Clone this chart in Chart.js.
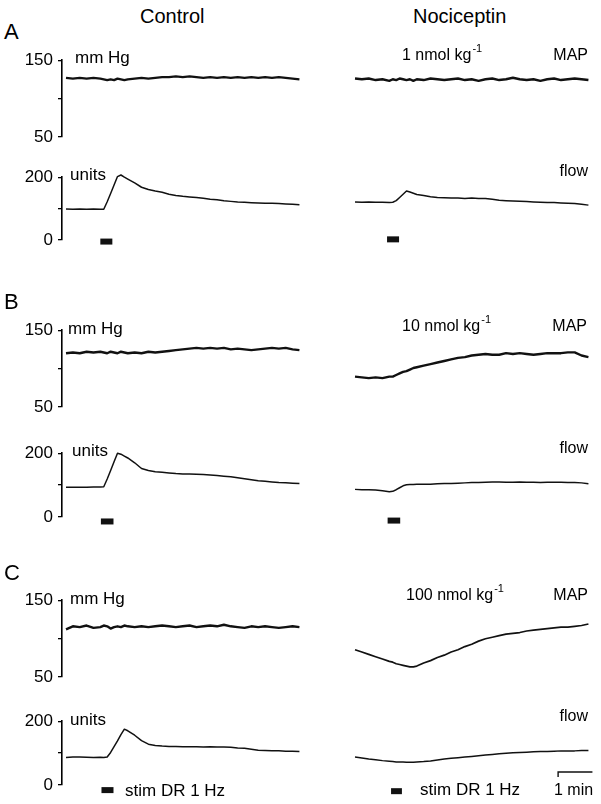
<!DOCTYPE html>
<html><head><meta charset="utf-8">
<script src="https://cdn.jsdelivr.net/npm/chart.js@4.4.1/dist/chart.umd.min.js"></script>
<style>
html,body{margin:0;padding:0;background:#fff;}
body{width:601px;height:804px;position:relative;overflow:hidden;font-family:"Liberation Sans",Arial,Helvetica,sans-serif;color:#000;}
canvas{position:absolute;}
.t{position:absolute;white-space:nowrap;line-height:1;z-index:2;}
.sup{font-size:11px;position:relative;top:-8px;margin-left:1px;}
</style></head><body>

<div class="t" style="left:140px;top:6px;font-size:20px;">Control</div>
<div class="t" style="left:413px;top:6px;font-size:20px;">Nociceptin</div>
<div class="t" style="left:4px;top:21px;font-size:22px;">A</div>
<div class="t" style="left:4px;top:291px;font-size:22px;">B</div>
<div class="t" style="left:4px;top:562px;font-size:22px;">C</div>

<div class="t" style="left:75px;top:49px;font-size:17px;">mm Hg</div>
<div class="t" style="left:70px;top:166px;font-size:17px;">units</div>
<div class="t" style="left:68px;top:320px;font-size:17px;">mm Hg</div>
<div class="t" style="left:72px;top:442px;font-size:17px;">units</div>
<div class="t" style="left:70px;top:590px;font-size:17px;">mm Hg</div>
<div class="t" style="left:70px;top:711px;font-size:17px;">units</div>

<div class="t" style="left:402px;top:47px;font-size:16px;">1 nmol kg<span class="sup">-1</span></div>
<div class="t" style="left:402px;top:318px;font-size:16px;">10 nmol kg<span class="sup">-1</span></div>
<div class="t" style="left:406px;top:587px;font-size:16px;">100 nmol kg<span class="sup">-1</span></div>
<div class="t" style="right:13px;top:47px;font-size:16px;">MAP</div>
<div class="t" style="right:14px;top:318px;font-size:16px;">MAP</div>
<div class="t" style="right:13px;top:587px;font-size:16px;">MAP</div>
<div class="t" style="right:13px;top:163px;font-size:16px;">flow</div>
<div class="t" style="right:13px;top:440px;font-size:16px;">flow</div>
<div class="t" style="right:13px;top:708px;font-size:16px;">flow</div>

<div class="t" style="left:125px;top:782px;font-size:17px;">stim DR 1 Hz</div>
<div class="t" style="left:420px;top:781px;font-size:17px;">stim DR 1 Hz</div>
<div class="t" style="left:554px;top:782px;font-size:16px;">1 min</div>

<script>
// time axis (s)
const timeSec = [0,12,24,36,48,60,66,72,78,84,90,96,102,108,120,132,144,156,168,180,192,204,216,228,240,252,264,276,288,300,312,324,336,348,360,372,384,396,408];

// MAP (mm Hg)
const mapControlA = [127,126,127,126,127,126,125,124,125,124,126,125,124,125,126,127,126,127,128,128,129,128,129,128,127,128,127,128,127,128,127,128,127,128,127,128,127,126,125];
const mapNocA1    = [125,124,125,123,124,122,124,123,125,124,123,124,122,124,123,125,124,123,124,125,123,124,122,124,125,123,124,126,124,123,124,122,124,125,123,124,125,124,123];
const mapControlB = [120,121,120,122,121,122,121,120,122,121,120,122,121,120,121,120,122,121,122,123,124,125,126,127,126,127,126,127,125,126,125,124,125,126,127,126,127,125,124];
const mapNocB10   = [89,88,87,88,87,89,89,91,93,95,96,98,100,101,103,105,107,109,111,113,114,116,117,118,117,117,119,118,119,118,117,118,119,119,119,120,120,116,114];
const mapControlC = [112,116,115,117,114,115,117,116,113,115,116,115,117,116,115,116,115,116,117,116,115,116,117,115,116,117,116,118,116,115,114,116,115,116,115,114,115,116,115];
const mapNocC100  = [85,82,79,76,73,70,69,67,66,65,64,63,63,64,68,71,75,78,82,85,89,92,96,99,101,103,105,106,107,109,110,111,112,113,114,114,115,116,118];

// flow (units)
const flowControlA = [99,98,99,98,99,98,98,122,148,175,202,207,200,194,182,168,161,156,152,146,142,139,137,135,133,130,128,125,123,121,120,119,118,117,117,116,115,114,112];
const flowNocA1    = [119,118,119,118,118,117,118,123,133,143,153,150,146,142,139,135,133,132,131,131,130,131,130,130,127,124,123,122,121,120,119,118,117,117,116,115,114,112,109];
const flowControlB = [93,93,93,93,94,94,95,119,146,173,200,197,191,185,170,152,146,142,140,138,136,135,135,134,133,132,130,128,126,123,120,117,114,112,110,108,107,106,105];
const flowNocB10   = [85,84,84,83,81,78,79,84,90,96,99,100,100,101,101,101,102,103,103,104,105,106,106,107,108,108,107,107,108,107,107,106,107,107,107,106,106,105,102];
const flowControlC = [86,88,88,87,86,87,86,88,102,120,138,158,175,170,156,139,128,124,122,121,121,120,120,120,119,120,119,119,118,116,115,112,109,108,107,107,106,106,105];
const flowNocC100  = [86,83,80,78,75,73,72,71,71,71,70,70,70,71,72,74,77,80,82,84,86,88,90,92,94,96,98,99,100,101,102,103,103,104,105,105,105,106,106];

// stimulation (DR 1 Hz) markers: A ctrl, A noc, B ctrl, B noc, C ctrl, C noc
const stimOn    = [60, 56, 61, 57, 62, 63];
const stimOff   = [81, 77, 83, 79, 83, 82];
const stimLevel = [-5, 2, -14, -11, -16, -19];

// 1 min scale bar
const scaleBarX = [355, 415];
const scaleBarY = [25, 40];

// axis ticks
const mapTicks  = [50, 100, 150];
const flowTicks = [0, 100, 200];
const mapTickLabels  = {50:'50', 150:'150'};
const flowTickLabels = {0:'0', 200:'200'};

const FONT = '"Liberation Sans", Arial, Helvetica, sans-serif';
const INK = '#111';
const PT = 14, PB = 18;

function makeChart(o){
  const c = document.createElement('canvas');
  const isL = o.side === 'L';
  const left = isL ? 0 : 340;
  const w = isL ? 304 : 261;
  const h = PT + o.h + PB;
  c.width = w; c.height = h;
  c.style.left = left + 'px';
  c.style.top = (o.top - PT) + 'px';
  c.style.width = w + 'px'; c.style.height = h + 'px';
  document.body.appendChild(c);
  const ds = [{
    data: timeSec.map((t,i)=>({x:t, y:o.values[i]})),
    borderColor: INK, borderWidth: o.lw, pointRadius: 0, tension: 0, clip: false,
    borderJoinStyle: 'round'
  }];
  (o.extra||[]).forEach(e=>ds.push(Object.assign({borderColor: INK, pointRadius: 0, tension: 0, clip: false}, e)));
  const ticks = o.kind === 'map' ? mapTicks : flowTicks;
  const labels = o.kind === 'map' ? mapTickLabels : flowTickLabels;
  new Chart(c, {
    type: 'line',
    data: {datasets: ds},
    options: {
      responsive: false, animation: false, devicePixelRatio: 1, events: [],
      layout: {padding: isL ? {left:0,right:4,top:PT,bottom:PB} : {left:11,right:12,top:PT,bottom:PB}},
      plugins: {legend:{display:false}, tooltip:{enabled:false}},
      scales: {
        x: {type:'linear', display:false, min:-7, max:409},
        y: {
          type:'linear', display: isL,
          min: ticks[0], max: ticks[2],
          afterBuildTicks: s => { s.ticks = ticks.map(v=>({value:v})); },
          afterFit: s => { s.width = isL ? 62 : 0; },
          border: {display:true, color:'#000', width:1.6},
          grid: {display:true, drawOnChartArea:false, drawTicks:true, tickLength:4, color:'#000', lineWidth:1.3},
          ticks: {color:'#000', padding:5, font:{family:FONT, size:17}, callback: v => labels[v] || ''}
        }
      }
    }
  });
}

function stimDs(k){
  return {data:[{x:stimOn[k], y:stimLevel[k]},{x:stimOff[k], y:stimLevel[k]}], borderWidth:6, borderCapStyle:'butt'};
}

const panels = [
  {mapTop:59,  flowTop:176, flowH:64, mc:mapControlA, mn:mapNocA1,   fc:flowControlA, fn:flowNocA1},
  {mapTop:329, flowTop:452, flowH:65, mc:mapControlB, mn:mapNocB10,  fc:flowControlB, fn:flowNocB10},
  {mapTop:599, flowTop:720, flowH:65, mc:mapControlC, mn:mapNocC100, fc:flowControlC, fn:flowNocC100}
];

panels.forEach((p, i) => {
  makeChart({side:'L', kind:'map', top:p.mapTop, h:78, values:p.mc, lw:2.4});
  makeChart({side:'R', kind:'map', top:p.mapTop, h:78, values:p.mn, lw: i===2 ? 1.7 : 2.4});
  makeChart({side:'L', kind:'flow', top:p.flowTop, h:p.flowH, values:p.fc, lw:1.5, extra:[stimDs(2*i)]});
  const extra = [stimDs(2*i+1)];
  if (i === 2) extra.push({data:[{x:scaleBarX[0],y:scaleBarY[0]},{x:scaleBarX[0],y:scaleBarY[1]},{x:scaleBarX[1],y:scaleBarY[1]},{x:scaleBarX[1],y:scaleBarY[0]}], borderWidth:1.4});
  makeChart({side:'R', kind:'flow', top:p.flowTop, h:p.flowH, values:p.fn, lw:1.5, extra});
});
</script>
</body></html>
